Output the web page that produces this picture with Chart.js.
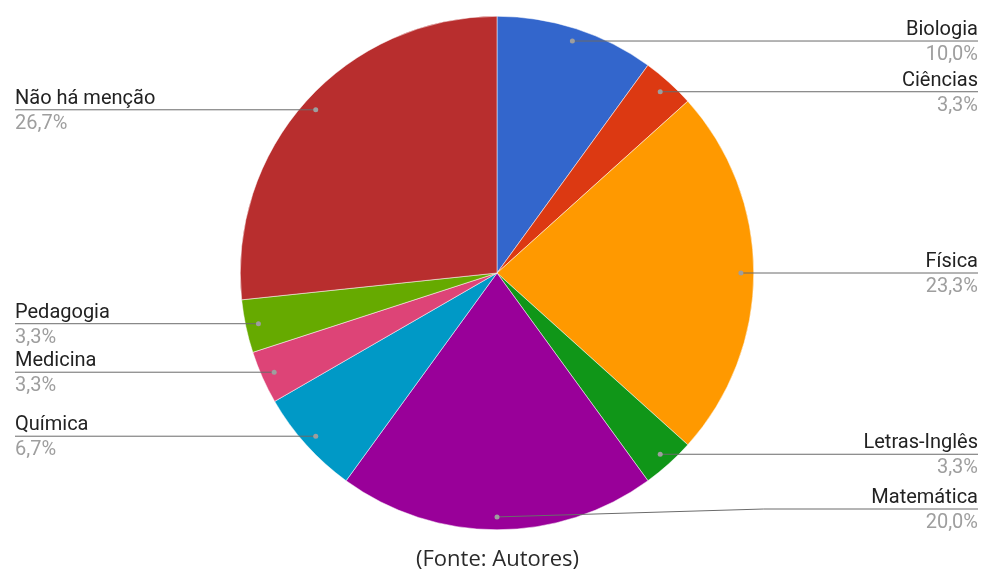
<!DOCTYPE html>
<html>
<head>
<meta charset="utf-8">
<script src="https://cdn.jsdelivr.net/npm/chart.js@4"></script>
<style>
  html, body { margin: 0; padding: 0; background: #fff; }
  #wrap { position: relative; width: 989px; height: 571px; }
  #caption {
    position: absolute; left: 3px; width: 989px; top: 546px;
    text-align: center; font: 22px/22px "Open Sans", sans-serif; color: #2a2a2a;
  }
</style>
</head>
<body>
<div id="wrap">
  <canvas id="pieChart" width="989" height="571"></canvas>
  <div id="caption">(Fonte: Autores)</div>
</div>
<script>
// dados do gráfico (sentido horário a partir do topo)
const categorias = ['Biologia', 'Ciências', 'Física', 'Letras-Inglês', 'Matemática',
                    'Química', 'Medicina', 'Pedagogia', 'Não há menção'];
const valores = [3, 1, 7, 1, 6, 2, 1, 1, 8];
const cores = ['#3366cc', '#dc3912', '#ff9900', '#109618', '#990099',
               '#0099c6', '#dd4477', '#66aa00', '#b82e2e'];

const total = valores.reduce((a, b) => a + b, 0);
const pct = v => (v / total * 100).toFixed(1).replace('.', ',') + '%';

// rótulos com linhas-guia, estilo Google Charts
const leaderLabels = {
  id: 'leaderLabels',
  afterDraw(chart) {
    const ctx = chart.ctx;
    const meta = chart.getDatasetMeta(0);
    let acc = 0;
    meta.data.forEach((arc, i) => {
      const v = valores[i];
      const midFrac = (acc + v / 2) / total;
      acc += v;
      const p = arc.getProps(['x', 'y', 'startAngle', 'endAngle', 'outerRadius'], true);
      const mid = (p.startAngle + p.endAngle) / 2;
      const d = p.outerRadius * 0.95;
      const dx = p.x + Math.cos(mid) * d;
      const dy = p.y + Math.sin(mid) * d;
      const right = midFrac <= 0.5 + 1e-9;
      const lineY = Math.min(dy, chart.chartArea.bottom - 21);
      const bendX = right ? p.x + p.outerRadius + 10 : p.x - p.outerRadius - 10;
      const endX = right ? 978 : 15;

      ctx.save();
      ctx.strokeStyle = '#6b6b6b';
      ctx.lineWidth = 1;
      ctx.beginPath();
      ctx.moveTo(dx, dy);
      if (Math.abs(lineY - dy) > 0.5) ctx.lineTo(bendX, lineY);
      ctx.lineTo(endX, lineY);
      ctx.stroke();

      ctx.fillStyle = '#9e9e9e';
      ctx.beginPath();
      ctx.arc(dx, dy, 2.5, 0, Math.PI * 2);
      ctx.fill();

      ctx.font = '20px Roboto';
      ctx.textAlign = right ? 'right' : 'left';
      ctx.textBaseline = 'alphabetic';
      ctx.fillStyle = '#222222';
      ctx.fillText(categorias[i], endX, lineY - 6);
      ctx.fillStyle = '#9e9e9e';
      ctx.fillText(pct(v), endX, lineY + 19);
      ctx.restore();
    });
  }
};

new Chart(document.getElementById('pieChart'), {
  type: 'pie',
  data: {
    labels: categorias,
    datasets: [{
      data: valores,
      backgroundColor: cores,
      borderColor: '#ffffff',
      borderWidth: 0.5
    }]
  },
  options: {
    responsive: false,
    animation: false,
    layout: { padding: { top: 16, bottom: 41, left: 240, right: 235 } },
    plugins: {
      legend: { display: false },
      tooltip: { enabled: false }
    }
  },
  plugins: [leaderLabels]
});
</script>
</body>
</html>
